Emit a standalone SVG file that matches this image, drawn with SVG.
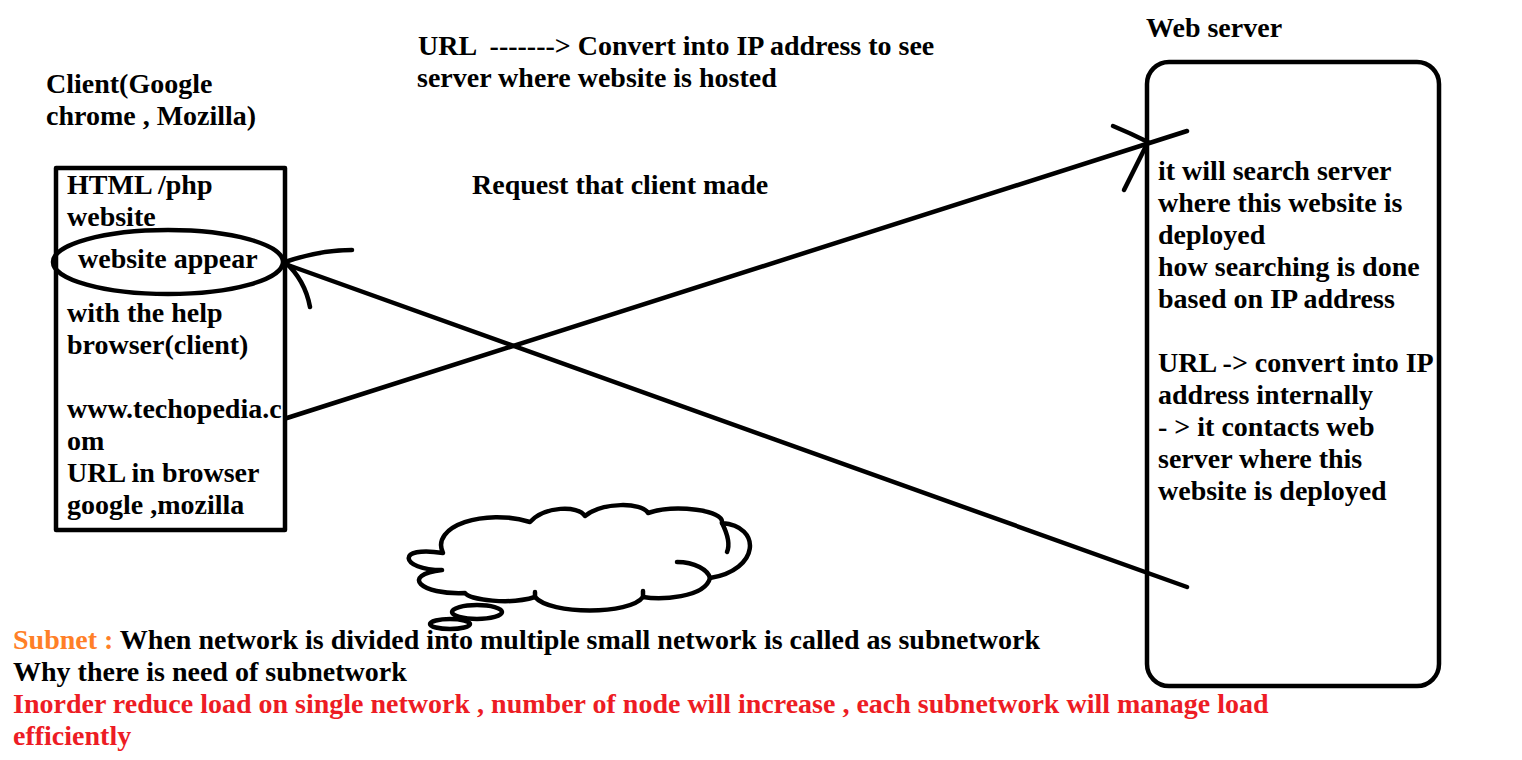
<svg xmlns="http://www.w3.org/2000/svg" width="1522" height="760" viewBox="0 0 1522 760">
<style>
text{font-family:"Liberation Serif","Times New Roman",serif;font-weight:bold;font-size:28px;fill:#000}
.o{fill:#FF7F27}.r{fill:#ED1C24}
.s{fill:none;stroke:#000;stroke-width:4.5;stroke-linecap:round;stroke-linejoin:round}
</style>
<rect width="1522" height="760" fill="#fff"/>
<g id="title-url">
<text x="418" y="55" xml:space="preserve">URL  -------&gt; Convert into IP address to see</text>
<text x="417" y="87">server where website is hosted</text>
</g>
<g id="request-label"><text x="472" y="194">Request that client made</text></g>
<g id="client-label">
<text x="46" y="93">Client(Google</text>
<text x="46" y="125">chrome , Mozilla)</text>
</g>
<g id="client">
<rect class="s" x="56" y="168" width="229" height="362" stroke-linecap="butt"/>
<text x="67" y="194">HTML /php</text>
<text x="67" y="226">website</text>
<text x="78" y="268">website appear</text>
<text x="67" y="322">with the help</text>
<text x="67" y="354">browser(client)</text>
<text x="67" y="418">www.techopedia.c</text>
<text x="67" y="450">om</text>
<text x="67" y="482">URL in browser</text>
<text x="67" y="514">google ,mozilla</text>
</g>
<g id="website-appear"><ellipse class="s" cx="168" cy="262" rx="115" ry="32"/></g>
<g id="web-server-label"><text x="1146" y="37">Web server</text></g>
<g id="web-server">
<rect class="s" x="1147" y="62" width="292" height="624" rx="22"/>
<text x="1158" y="180">it will search server</text>
<text x="1158" y="212">where this website is</text>
<text x="1158" y="244">deployed</text>
<text x="1158" y="276">how searching is done</text>
<text x="1158" y="308">based on IP address</text>
<text x="1158" y="372">URL -&gt; convert into IP</text>
<text x="1158" y="404">address internally</text>
<text x="1158" y="436">- &gt; it contacts web</text>
<text x="1158" y="468">server where this</text>
<text x="1158" y="500">website is deployed</text>
</g>
<g id="connectors">
<path class="s" d="M287 418 L1187 131"/>
<path class="s" d="M1113 126 Q1130 133 1148 142 L1124 190"/>
<path class="s" d="M1187 587 L285 264"/>
<path class="s" d="M352 250 Q320 250 285 262 Q305 280 310 307"/>
</g>
<g id="cloud">
<path class="s" d="M443 553 C430 526 485 508 530 522 C545 506 578 505 585 516 C602 502 642 502 648 513 C675 504 725 510 722 523 C762 526 760 570 710 578 C705 598 660 600 643 597 C630 615 550 615 535 597 C510 605 470 600 465 593 C420 595 400 575 442 570 C400 570 395 545 443 553 Z"/>
<path class="s" d="M677 562 C695 562 708 570 710 578 M722 523 C728 535 730 545 727 552 M535 597 L535 592 M643 597 L643 591"/>
<ellipse class="s" cx="477" cy="612" rx="25" ry="7"/>
<ellipse class="s" cx="450" cy="624" rx="20" ry="5"/>
</g>
<g id="notes">
<text x="13" y="649"><tspan class="o">Subnet : </tspan>When network is divided into multiple small network is called as subnetwork</text>
<text x="13" y="681">Why there is need of subnetwork</text>
<text x="13" y="713" class="r">Inorder reduce load on single network , number of node will increase , each subnetwork will manage load</text>
<text x="13" y="745" class="r">efficiently</text>
</g>
</svg>
